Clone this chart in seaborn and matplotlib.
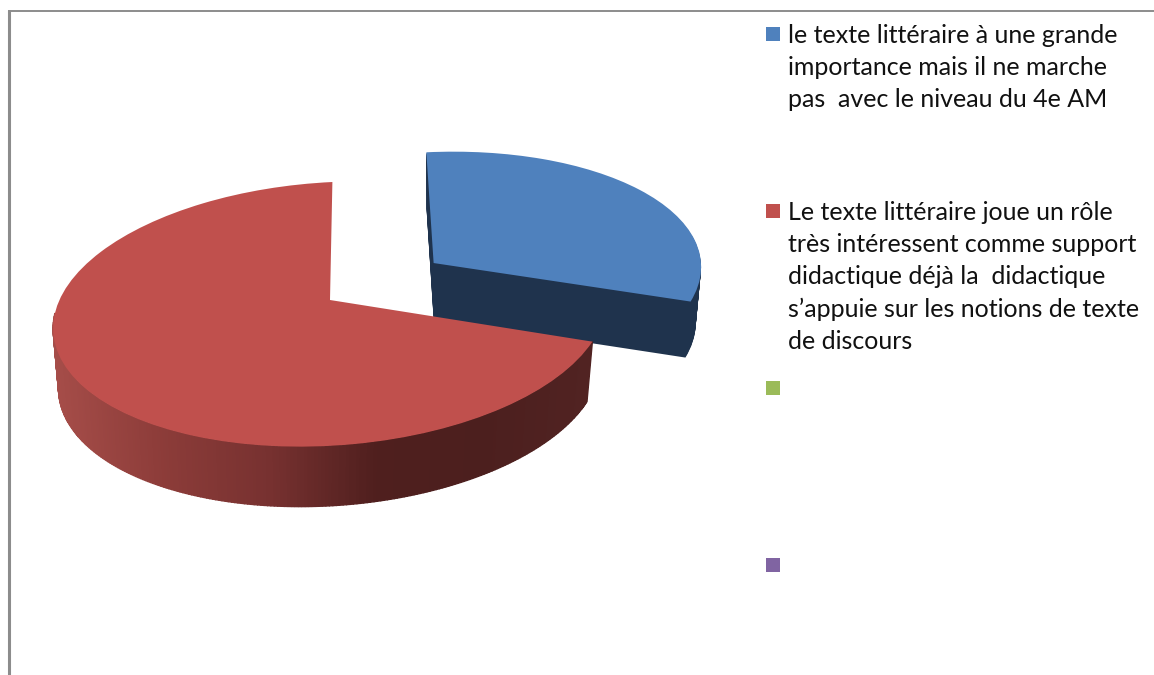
import numpy as np
import matplotlib
matplotlib.use('Agg')
import matplotlib.pyplot as plt
import matplotlib.transforms as mtransforms
import seaborn as sns

shares = [31.5, 68.5]
explode = [0.46, 0]
legend_labels = [
    'le texte littéraire à une grande\nimportance mais il ne marche\npas  avec le niveau du 4e AM',
    'Le texte littéraire joue un rôle\ntrès intéressent comme support\ndidactique déjà la  didactique\ns’appuie sur les notions de texte\nde discours',
    '',
    '',
]
legend_colors = ['#4f81bd', '#c0504d', '#9bbb59', '#8064a2']
wall_colors = ['#a64d49', '#8c3c39', '#773130', '#4f1f1e', '#4c1f1e', '#512322']
blue_wall = '#1f334d'
red_depth = 60
blue_depth = 56


# tilted 3D look of the pie, unit circle -> pixels
class PieView(mtransforms.Transform):
    input_dims = 2
    output_dims = 2

    def transform_non_affine(self, xy):
        x, y = np.asarray(xy).T
        w = 1 + 0.106 * y
        return np.column_stack([355 + (275 * x - 25) / w, 300 - (130.5 * y + 13 * x) / w])


def squeeze(x, frac):
    # lower rim of the pie is a bit narrower than the top one
    return 323 + (x - 323) * (1 - 0.02 * frac)


sns.set_theme(style='white')
plt.rcParams['font.family'] = ['Lato', 'DejaVu Sans']

fig = plt.figure(figsize=(11.54, 6.75), dpi=100)
ax = fig.add_axes([0, 0, 1, 1])
view = PieView()
flat = {'linewidth': 0, 'edgecolor': 'none'}

# side of the blue slice, stacked from the bottom up
for d in range(blue_depth, 0, -1):
    wedges, _ = ax.pie(shares, colors=[blue_wall, 'none'], explode=explode, startangle=90,
                       counterclock=False, wedgeprops=flat)
    s = 1 - 0.02 * d / blue_depth
    shift = mtransforms.Affine2D().translate(-433, 0).scale(s, 1).translate(433, d)
    wedges[0].set_radius(0.99)
    wedges[0].set_transform(view + shift + ax.transData)
    wedges[1].remove()

# side of the red slice with its gradient
end_angle = 90 - 360 * shares[0] / sum(shares)
theta = np.radians(np.linspace(180, 360 + end_angle, 240))
edge = view.transform(np.column_stack([np.cos(theta), np.sin(theta)]))
cmap = sns.blend_palette(wall_colors, as_cmap=True)
for i in range(len(theta) - 1):
    xs = edge[i:i + 2, 0]
    ys = edge[i:i + 2, 1]
    shade = cmap((xs[0] - 53) / (edge[:, 0].max() - 53))
    ax.fill(np.r_[xs, squeeze(xs[::-1], 1)], np.r_[ys, ys[::-1] + red_depth], color=shade, lw=1.0)

# top faces
wedges, _ = ax.pie(shares, colors=legend_colors[:2], explode=explode, startangle=90,
                   counterclock=False, wedgeprops=flat)
wedges[0].set_radius(0.99)
for w in wedges:
    w.set_transform(view + ax.transData)

ax.set_aspect('auto')
ax.set_xlim(0, 1154)
ax.set_ylim(675, 0)
ax.axis('off')

# chart frame, only left and top are visible
ax.plot([9, 9], [10, 675], color='#8c8c8c', lw=2.2, solid_capstyle='butt', clip_on=False)
ax.plot([8, 1154], [10.5, 10.5], color='#8c8c8c', lw=1.4, solid_capstyle='butt', clip_on=False)

# legend
for i, (label, color) in enumerate(zip(legend_labels, legend_colors)):
    y = 34 + 177 * i
    ax.scatter([773], [y], marker='s', s=115, color=color, linewidths=0)
    ax.text(788, y - 10, label, fontsize=18, color='#111111', va='top', ha='left', linespacing=1.48)

fig.savefig('out.png', dpi=100)
